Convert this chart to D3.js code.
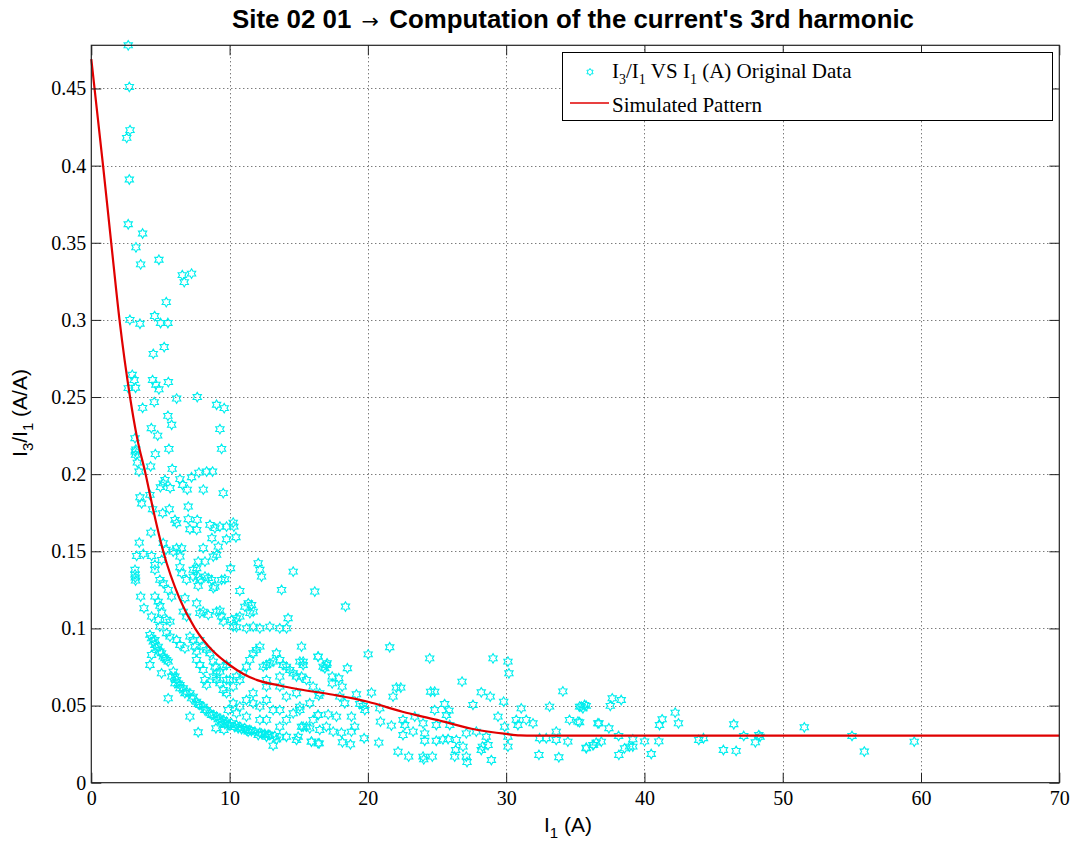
<!DOCTYPE html>
<html>
<head>
<meta charset="utf-8">
<script src="https://cdn.jsdelivr.net/npm/d3@7"></script>
<style>
  html, body { margin: 0; padding: 0; background: #fff; }
  svg { display: block; }
  .tick text { font-family: "Liberation Serif", "Times New Roman", serif; font-size: 20px; fill: #000; }
</style>
</head>
<body>
<svg id="chart" width="1075" height="843"></svg>
<script>
// Measured fundamental current I1 (A) and 3rd-harmonic ratio I3/I1 (A/A)
const upperI1 = [2.67,2.75,2.80,2.56,2.75,2.67,3.71,3.23,3.57,4.89,6.58,7.25,6.72,5.42,2.79,3.52,4.58,5.01,5.54,4.48,5.27,2.96,3.10,3.20,2.67,4.43,4.67,4.89,5.57,6.17,7.66,3.71,4.55,9.06,9.61,5.54,5.81,4.34,4.80,3.16,9.30,3.18,3.20,3.22,4.63,5.61,9.42,3.33,4.29,3.45,5.85,7.78,8.34,8.77,6.41,7.25,5.33,5.00,5.20,5.70,6.60,6.94,8.10,9.54,3.52,4.24,3.64];
const upperRatio = [0.478,0.451,0.423,0.418,0.391,0.362,0.356,0.347,0.336,0.339,0.329,0.330,0.3245,0.3115,0.300,0.2975,0.3025,0.298,0.298,0.278,0.2824,0.2644,0.261,0.256,0.2558,0.261,0.258,0.255,0.2597,0.249,0.250,0.243,0.2467,0.245,0.2428,0.2378,0.232,0.2298,0.225,0.2233,0.2292,0.2147,0.2125,0.216,0.213,0.2164,0.2164,0.2075,0.205,0.2017,0.2034,0.201,0.2017,0.2017,0.1968,0.198,0.1963,0.1916,0.194,0.191,0.193,0.19,0.190,0.1877,0.185,0.1866,0.181];

const highI1 = [4.43,5.16,5.64,6.05,6.17,7.01,7.01,7.66,7.13,7.62,8.58,8.94,9.30,9.78,10.26,10.31,10.46,9.78,8.72,9.18,9.06,8.82,4.31,3.47,3.28,3.76,4.36,5.20,5.40,5.09,5.92,6.17,6.41,6.53,8.09,8.22,7.73];
const highRatio = [0.1773,0.1747,0.1773,0.1704,0.1682,0.179,0.1708,0.1704,0.1643,0.1639,0.1671,0.165,0.166,0.166,0.1686,0.166,0.1591,0.1578,0.1585,0.153,0.1477,0.1466,0.1621,0.1556,0.147,0.1483,0.147,0.1553,0.151,0.1444,0.1498,0.152,0.1466,0.152,0.152,0.1433,0.1433];

const midI1 = [3.16,3.16,3.18,3.20,4.60,4.60,4.96,5.20,5.81,5.56,7.37,7.62,7.73,7.85,8.22,8.46,8.70,7.37,7.73,6.41,6.89,6.53,9.42,9.66,10.07,8.82,8.94,10.74,12.07,12.19,12.31,13.76,14.60,16.16,3.57,3.81,4.36,4.60,4.84,4.96,5.09,5.45,5.69,4.84,4.96,6.77,6.65,6.89,7.62,7.85,8.09,8.46,9.06,9.30,9.42,9.54,10.14,10.50,10.74,11.10,11.35,11.59,11.71,11.47,10.26,10.50,11.23,11.71,12.19,12.91,13.63,14.12,14.23];
const midRatio = [0.138,0.135,0.133,0.131,0.1412,0.138,0.1315,0.1293,0.1206,0.125,0.138,0.139,0.1336,0.1315,0.1336,0.1326,0.1315,0.1336,0.1276,0.1397,0.1315,0.1358,0.1315,0.1319,0.139,0.1261,0.1271,0.1243,0.1423,0.138,0.1336,0.125,0.1368,0.1239,0.1206,0.1131,0.1077,0.1206,0.1174,0.1146,0.1103,0.1055,0.1044,0.1055,0.1012,0.1196,0.1109,0.1077,0.1163,0.1099,0.1109,0.1088,0.1109,0.1115,0.1077,0.1044,0.1055,0.1066,0.1077,0.1141,0.1163,0.1152,0.1109,0.1099,0.1012,0.1008,0.1001,0.1012,0.1001,0.1012,0.1001,0.1001,0.1066];

const arcI1 = [4.24,4.36,4.48,4.60,4.72,4.96,5.20,5.44,4.36,4.24,5.08,5.56,5.93,6.05,6.17,6.29,6.41,6.65,6.89,7.13,7.37,7.61,7.85,8.09,8.33,8.58,8.82,9.06,9.30,9.54,9.78,10.14,10.50,10.74,11.10,11.46,11.83,12.19,12.55,12.91,13.27,13.63,13.15,14.11,14.84,14.96,15.20,15.92,16.40,7.13,7.73,9.01,9.59,5.81,6.05,6.41,6.77,7.25,7.73,8.21,8.70,9.18,9.90,10.62,11.34,12.07,12.67,13.39,4.60,4.84,5.08,5.32,5.56,9.42,9.66,10.02,10.38,10.86,11.22,11.58,12.31,12.79];
const arcRatio = [0.0958,0.0936,0.0915,0.0893,0.0871,0.0850,0.0817,0.0796,0.0828,0.0763,0.0709,0.0547,0.0720,0.0688,0.0666,0.0644,0.0634,0.0612,0.0590,0.0580,0.0558,0.0525,0.0504,0.0493,0.0471,0.0450,0.0439,0.0428,0.0417,0.0407,0.0396,0.0385,0.0374,0.0363,0.0353,0.0342,0.0331,0.0324,0.0316,0.0309,0.0303,0.0294,0.0240,0.0298,0.0277,0.0298,0.0363,0.0266,0.0255,0.0428,0.0327,0.0353,0.0342,0.0688,0.0644,0.0612,0.0580,0.0547,0.0510,0.0471,0.0439,0.0411,0.0374,0.0353,0.0331,0.0309,0.0298,0.0281,0.0925,0.0882,0.0839,0.0807,0.0785,0.0395,0.0380,0.0372,0.0360,0.0348,0.0340,0.0335,0.0318,0.0312];

const bandI1 = [5.44,5.69,6.17,6.41,6.77,7.13,7.37,7.49,7.61,7.85,8.09,8.33,8.58,8.82,8.94,9.06,9.30,9.54,9.78,7.61,7.85,8.09,8.21,8.33,8.82,9.06,9.30,9.54,9.78,10.02,10.26,10.50,10.74,10.98,11.22,11.46,11.70,11.94,12.19,12.43,12.67,12.91,13.15,13.39,13.63,13.87,14.11,14.35,14.60,14.84,15.08,15.32,15.56,16.04,16.40,16.76,17.00,10.26,10.74,11.22,11.70,12.19,12.67,13.15,13.63,14.11,14.60,15.08,15.56,16.04,16.40,17.00,11.22,12.19,12.67,13.63,9.78,9.90,10.50,11.70,12.67,13.63,14.11,14.84,15.80,16.52,13.63,12.67];
const bandRatio = [0.0969,0.0947,0.0925,0.0893,0.0871,0.0947,0.0925,0.0882,0.0850,0.0925,0.0882,0.0861,0.0839,0.0785,0.0752,0.0709,0.0720,0.0752,0.0763,0.0796,0.0763,0.0731,0.0666,0.0634,0.0688,0.0666,0.0644,0.0601,0.0580,0.0666,0.0623,0.0688,0.0666,0.0709,0.0752,0.0796,0.0839,0.0861,0.0882,0.0752,0.0763,0.0774,0.0785,0.0839,0.0796,0.0763,0.0752,0.0731,0.0709,0.0688,0.0785,0.0763,0.0666,0.0623,0.0817,0.0752,0.0763,0.0515,0.0493,0.0536,0.0515,0.0493,0.0536,0.0471,0.0471,0.0407,0.0450,0.0471,0.0363,0.0407,0.0439,0.0363,0.0428,0.0407,0.0407,0.0363,0.0666,0.0471,0.0450,0.0580,0.0623,0.0623,0.0558,0.0580,0.0515,0.0580,0.0688,0.0666];

const tailI1 = [18.38,21.58,20.02,24.47,29.05,30.13,30.20,26.81,15.20,15.32,15.20,16.40,16.89,17.05,18.52,17.42,17.90,17.42,18.14,22.06,22.38,24.54,24.83,28.20,28.85,21.82,20.26,19.17,16.45,17.97,18.33,19.41,19.78,19.66,20.86,25.55,25.87,27.60,29.82,31.09,33.14,34.10,35.43,35.67,24.83,25.68,16.40,17.13,17.73,18.81,15.08,15.32,15.80,16.52,17.49,18.09,18.81,19.05,20.91,21.70,22.54,22.67,23.39,23.99,24.95,25.92,22.54,23.27,24.11,24.11,24.95,25.43,25.80,26.40,27.12,27.84,28.56,29.41,29.89,30.13,30.13,15.92,16.48,18.16,18.74,19.73,20.79,22.18,22.95,23.99,24.04,24.66,26.28,26.35,27.12,27.17,26.88,28.20,28.28,28.69,28.93,32.37,33.81,33.62,32.42,31.94,31.45,30.73,30.85,32.90,33.62,34.46,34.58,35.19,35.79,36.27,36.51,36.63];
const tailRatio = [0.1142,0.0878,0.0832,0.0806,0.0806,0.0785,0.0709,0.0655,0.0882,0.0785,0.0688,0.0817,0.0742,0.0774,0.0742,0.0688,0.0677,0.0644,0.0623,0.0616,0.0616,0.0590,0.0590,0.0586,0.0558,0.0558,0.0584,0.0573,0.0564,0.0558,0.0515,0.0510,0.0471,0.0497,0.0482,0.0510,0.0467,0.0504,0.0525,0.0482,0.0493,0.0592,0.0493,0.0504,0.0471,0.0439,0.0439,0.0443,0.0428,0.0428,0.0493,0.0363,0.0352,0.0342,0.0331,0.0324,0.0331,0.0363,0.0396,0.0370,0.0407,0.0374,0.0428,0.0385,0.0374,0.0374,0.0309,0.0331,0.0320,0.0272,0.0272,0.0281,0.0283,0.0277,0.0320,0.0331,0.0298,0.0428,0.0363,0.0298,0.0234,0.0266,0.0255,0.0262,0.0249,0.0288,0.0260,0.0201,0.0169,0.0169,0.0151,0.0169,0.0169,0.0212,0.0169,0.0134,0.0234,0.0212,0.0234,0.0244,0.0147,0.0180,0.0165,0.0331,0.0288,0.0385,0.0407,0.0407,0.0374,0.0288,0.0277,0.0266,0.0407,0.0396,0.0223,0.0244,0.0260,0.0385];

const farI1 = [35.31,35.79,35.55,37.67,38.32,37.53,35.31,36.71,37.43,38.13,39.16,35.79,36.32,36.88,38.15,38.56,38.92,39.16,40.01,40.49,41.04,41.09,41.28,42.22,42.46,43.93,44.27,45.71,46.46,46.63,47.18,48.02,48.27,48.36,51.56,55.01,55.90,59.51];
const farRatio = [0.0493,0.0498,0.0482,0.0547,0.0536,0.0498,0.0392,0.0385,0.0353,0.0303,0.0281,0.0227,0.0245,0.0266,0.0180,0.0223,0.0234,0.0234,0.0268,0.0186,0.0268,0.0374,0.0411,0.0454,0.0385,0.0277,0.0288,0.0212,0.0379,0.0206,0.0303,0.0262,0.0309,0.0298,0.0359,0.0303,0.0202,0.0266];

// Simulated pattern (fitted curve)
const patternI1 = [0, 0.85, 1.44, 2.04, 2.8, 3.3, 3.93, 4.5, 5.2, 6.4, 7.5, 8.8, 10, 11, 12, 13.6, 15, 17.5, 20, 22.5, 25, 27.5, 30, 31, 32, 70];
const patternRatio = [0.469, 0.4, 0.35, 0.3, 0.25, 0.224, 0.2, 0.176, 0.15, 0.119, 0.1, 0.0853, 0.0763, 0.0705, 0.0665, 0.063, 0.0606, 0.057, 0.0525, 0.046, 0.0407, 0.035, 0.0316, 0.0307, 0.0305, 0.0305];

const xTicks = [0, 10, 20, 30, 40, 50, 60, 70];
const yTicks = [0, 0.05, 0.1, 0.15, 0.2, 0.25, 0.3, 0.35, 0.4, 0.45];
const xDomain = [0, 70];
const yDomain = [0, 0.478];

(function draw() {
  const svg = d3.select("#chart");
  const plotL = 91.3, plotR = 1059.3, plotT = 45.3, plotB = 782.7;

  const x = d3.scaleLinear().domain(xDomain).range([plotL, plotR]);
  const y = d3.scaleLinear().domain(yDomain).range([plotB, plotT]);

  // dotted grid
  const grid = svg.append("g").attr("stroke", "#444").attr("stroke-width", 1)
    .attr("stroke-dasharray", "1,3");
  grid.selectAll("line.gx").data(xTicks.slice(1, -1)).join("line").attr("class", "gx")
    .attr("x1", d => Math.round(x(d)) + 0.5).attr("x2", d => Math.round(x(d)) + 0.5)
    .attr("y1", plotT).attr("y2", plotB);
  grid.selectAll("line.gy").data(yTicks.slice(1)).join("line").attr("class", "gy")
    .attr("y1", d => Math.round(y(d)) + 0.5).attr("y2", d => Math.round(y(d)) + 0.5)
    .attr("x1", plotL).attr("x2", plotR);

  // six-pointed star marker
  function hexagram(r) {
    const pts = [];
    for (let k = 0; k < 12; k++) {
      const a = -Math.PI / 2 + k * Math.PI / 6;
      const rr = k % 2 === 0 ? r : r / Math.sqrt(3);
      pts.push([(rr * Math.cos(a)).toFixed(2), (rr * Math.sin(a)).toFixed(2)]);
    }
    return "M" + pts.map(p => p.join(",")).join("L") + "Z";
  }
  const star = hexagram(4.8);

  const allI1 = [].concat(upperI1, highI1, midI1, arcI1, bandI1, tailI1, farI1);
  const allRatio = [].concat(upperRatio, highRatio, midRatio, arcRatio, bandRatio, tailRatio, farRatio);
  const samples = allI1.map((v, i) => ({ i1: v, r: allRatio[i] }));

  svg.append("g").selectAll("path").data(samples).join("path")
    .attr("d", star)
    .attr("transform", d => `translate(${x(d.i1)},${y(d.r)})`)
    .attr("fill", "none").attr("stroke", "#00eeee").attr("stroke-width", 1.1);

  // fitted curve
  const pattern = patternI1.map((v, i) => ({ i1: v, r: patternRatio[i] }));
  svg.append("path").datum(pattern)
    .attr("d", d3.line().x(d => x(d.i1)).y(d => y(d.r)).curve(d3.curveMonotoneX))
    .attr("fill", "none").attr("stroke", "#e00000").attr("stroke-width", 2.2);

  // axes with inward ticks on all four sides
  const fmt = d => String(d);
  svg.append("g").attr("transform", `translate(0,${plotB})`)
    .call(d3.axisBottom(x).tickValues(xTicks).tickFormat(fmt).tickSize(-10).tickPadding(8))
    .call(g => g.select(".domain").remove());
  svg.append("g").attr("transform", `translate(0,${plotT})`)
    .call(d3.axisTop(x).tickValues(xTicks).tickFormat("").tickSize(-10))
    .call(g => g.select(".domain").remove());
  svg.append("g").attr("transform", `translate(${plotL},0)`)
    .call(d3.axisLeft(y).tickValues(yTicks).tickFormat(fmt).tickSize(-10).tickPadding(5))
    .call(g => g.select(".domain").remove());
  svg.append("g").attr("transform", `translate(${plotR},0)`)
    .call(d3.axisRight(y).tickValues(yTicks).tickFormat("").tickSize(-10))
    .call(g => g.select(".domain").remove());
  svg.selectAll(".tick line").attr("stroke", "#222");

  svg.append("rect").attr("x", plotL).attr("y", plotT)
    .attr("width", plotR - plotL).attr("height", plotB - plotT)
    .attr("fill", "none").attr("stroke", "#222").attr("stroke-width", 1.2);

  // title
  const title = svg.append("text").attr("x", 573).attr("y", 28)
    .attr("text-anchor", "middle")
    .attr("textLength", 682).attr("lengthAdjust", "spacingAndGlyphs")
    .attr("font-family", "'Liberation Sans', Arial, sans-serif")
    .attr("font-size", 25).attr("font-weight", "bold");
  title.append("tspan").text("Site 02 01");
  title.append("tspan").attr("dx", 10).attr("font-weight", "normal")
    .attr("font-family", "'DejaVu Sans', sans-serif").attr("font-size", 20).text("\u2192");
  title.append("tspan").attr("dx", 10).text("Computation of the current's 3rd harmonic");

  // axis labels
  const xl = svg.append("text").attr("x", 568).attr("y", 832).attr("text-anchor", "middle")
    .attr("font-family", "'Liberation Sans', Arial, sans-serif").attr("font-size", 21);
  xl.append("tspan").text("I");
  xl.append("tspan").attr("font-size", 15).attr("dy", 6).text("1");
  xl.append("tspan").attr("dy", -6).text(" (A)");

  const yl = svg.append("text").attr("transform", "translate(27,413) rotate(-90)")
    .attr("text-anchor", "middle")
    .attr("font-family", "'Liberation Sans', Arial, sans-serif").attr("font-size", 21);
  yl.append("tspan").text("I");
  yl.append("tspan").attr("font-size", 15).attr("dy", 6).text("3");
  yl.append("tspan").attr("dy", -6).text("/I");
  yl.append("tspan").attr("font-size", 15).attr("dy", 6).text("1");
  yl.append("tspan").attr("dy", -6).text(" (A/A)");

  // legend
  const lg = svg.append("g");
  lg.append("rect").attr("x", 562.5).attr("y", 52.5).attr("width", 490).attr("height", 68)
    .attr("fill", "#fff").attr("stroke", "#000").attr("stroke-width", 1);
  lg.append("path").attr("d", hexagram(3.6)).attr("transform", "translate(590,72)")
    .attr("fill", "none").attr("stroke", "#00eeee").attr("stroke-width", 1);
  const l1 = lg.append("text").attr("x", 612).attr("y", 78)
    .attr("font-family", "'Liberation Serif', 'Times New Roman', serif").attr("font-size", 21);
  l1.append("tspan").text("I");
  l1.append("tspan").attr("font-size", 14).attr("dy", 6).text("3");
  l1.append("tspan").attr("dy", -6).text("/I");
  l1.append("tspan").attr("font-size", 14).attr("dy", 6).text("1");
  l1.append("tspan").attr("dy", -6).attr("dx", 5).text("VS I");
  l1.append("tspan").attr("font-size", 14).attr("dy", 6).text("1");
  l1.append("tspan").attr("dy", -6).text(" (A) Original Data");
  lg.append("line").attr("x1", 570).attr("x2", 609).attr("y1", 103).attr("y2", 103)
    .attr("stroke", "#e00000").attr("stroke-width", 1.5);
  lg.append("text").attr("x", 612).attr("y", 112)
    .attr("font-family", "'Liberation Serif', 'Times New Roman', serif").attr("font-size", 21)
    .text("Simulated Pattern");
})();
</script>
</body>
</html>
